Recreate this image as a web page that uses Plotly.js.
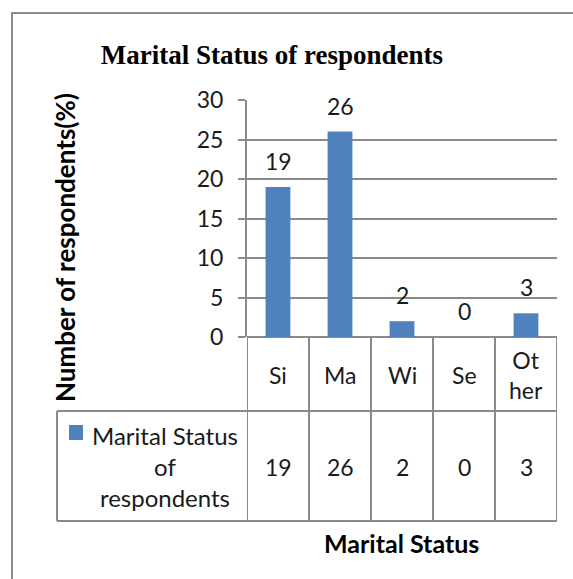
<!DOCTYPE html>
<html>
<head>
<meta charset="utf-8">
<script src="https://cdn.plot.ly/plotly-3.0.1.min.js"></script>
<style>
html,body{margin:0;padding:0;background:#fff;}
#chart{width:573px;height:579px;}
</style>
</head>
<body>
<div id="chart"></div>
<script>
// ---- data ----
var categories = ["Si", "Ma", "Wi", "Se", "Ot<br>her"];
var values = [19, 26, 2, 0, 3];
var seriesName = "Marital Status of respondents";
var legendLabel = "Marital Status<br>of<br>respondents";
var chartTitle = "Marital Status of respondents";
var xTitle = "Marital Status";
var yTitle = "Number of respondents(%)";

// ---- layout helpers (pixel geometry) ----
var W = 573, H = 579;
var L = 247, R = 557, T = 100, B = 337;
function px(x){ return (x - L) / (R - L); }
function py(y){ return (B - y) / (B - T); }

var FONT = "Lato, 'Open Sans', sans-serif";
var GRID = "#8a8a8a";
var BAR = "#4f81bd";
var TXT = "#1a1a1a";

var xIdx = categories.map(function(c, i){ return i; });

var shapes = [];
function line(x0, y0, x1, y1, xref, yref){
  shapes.push({type:"line", xref:xref, yref:yref, x0:x0, y0:y0, x1:x1, y1:y1,
    line:{color:GRID, width:2}, layer:"above"});
}
// outer frame
shapes.push({type:"rect", xref:"paper", yref:"paper",
  x0:px(12), y0:py(13), x1:px(640), y1:py(640),
  line:{color:"#8c8c8c", width:2}, fillcolor:"rgba(0,0,0,0)", layer:"below"});
// table horizontal lines
line(px(57), py(411), px(R), py(411), "paper", "paper");
line(px(57), py(521), px(R), py(521), "paper", "paper");
// table vertical lines: category boundaries
for (var i = 0; i <= categories.length; i++) {
  line(i - 0.5, 0, i - 0.5, py(521), "x", "paper");
}
// legend cell left edge
line(px(57), py(411), px(57), py(521), "paper", "paper");

function ann(o){
  o.showarrow = false;
  if (!o.xanchor) o.xanchor = "center";
  if (!o.yanchor) o.yanchor = "middle";
  return o;
}

var annotations = [];
categories.forEach(function(c, i){
  // data labels above bars
  annotations.push(ann({x:i, y:values[i], xref:"x", yref:"y", text:String(values[i]),
    yshift:26, font:{family:FONT, size:23, color:TXT}}));
  // category labels in the table
  annotations.push(ann({x:i, y:py(375), xref:"x", yref:"paper", text:c,
    font:{family:FONT, size:23, color:TXT}}));
  // table values
  annotations.push(ann({x:i, y:py(467), xref:"x", yref:"paper", text:String(values[i]),
    font:{family:FONT, size:23, color:TXT}}));
});
// legend key label in the table
annotations.push(ann({x:px(165), y:py(466), xref:"paper", yref:"paper", text:legendLabel,
  align:"center", font:{family:FONT, size:24, color:TXT}}));
// y axis title
annotations.push(ann({x:px(65), y:py(248), xref:"paper", yref:"paper", text:"<b>"+yTitle+"</b>",
  textangle:-90, font:{family:FONT, size:26, color:"#000"}}));
// x axis title
annotations.push(ann({x:px(401), y:py(543), xref:"paper", yref:"paper", text:"<b>"+xTitle+"</b>",
  font:{family:FONT, size:25, color:"#000"}}));

// legend colour key
shapes.push({type:"rect", xref:"paper", yref:"paper",
  x0:px(69), x1:px(83), y0:py(425), y1:py(440), fillcolor:BAR, line:{width:0}, layer:"above"});

var trace = {
  type:"bar", name:seriesName, x:xIdx, y:values,
  marker:{color:BAR, line:{width:0}}, width:0.4, hoverinfo:"x+y"
};

var layout = {
  width:W, height:H,
  margin:{l:L, r:W-R, t:T, b:H-B, pad:0},
  paper_bgcolor:"#fff", plot_bgcolor:"#fff",
  showlegend:false,
  title:{text:chartTitle, xref:"container", yref:"container",
    x:272/W, y:1-55/H, xanchor:"center", yanchor:"middle",
    font:{family:"'Liberation Serif', 'Times New Roman', serif", size:27, color:"#000", weight:"bold"}},
  xaxis:{type:"linear", range:[-0.5, categories.length - 0.5], showticklabels:false,
    showgrid:false, zeroline:false, showline:false, ticks:"", fixedrange:true},
  yaxis:{range:[0,30], dtick:5, tick0:0, showgrid:true, gridcolor:GRID, gridwidth:2,
    zeroline:true, zerolinecolor:GRID, zerolinewidth:2,
    showline:true, linecolor:GRID, linewidth:2,
    ticks:"outside", ticklen:7, tickwidth:2, tickcolor:GRID,
    ticklabelstandoff:10,
    tickfont:{family:FONT, size:23, color:TXT}, fixedrange:true},
  shapes:shapes,
  annotations:annotations
};

Plotly.newPlot("chart", [trace], layout, {staticPlot:true, displayModeBar:false});
</script>
</body>
</html>
